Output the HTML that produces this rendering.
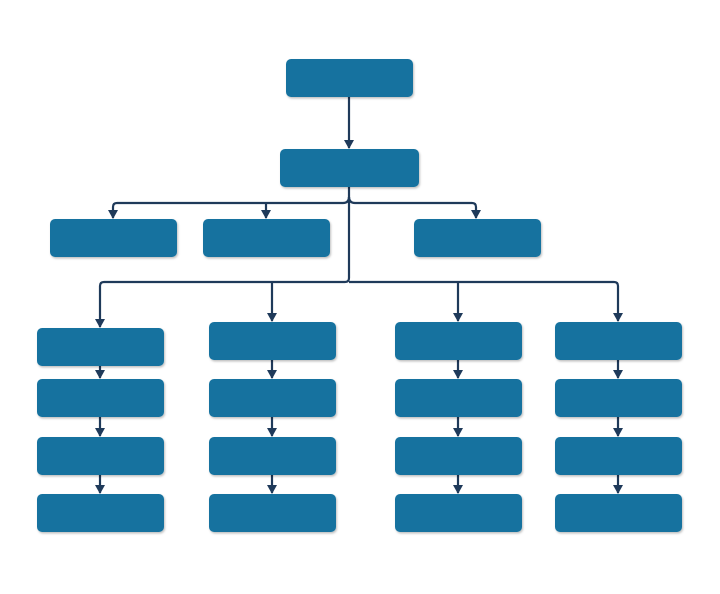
<!DOCTYPE html>
<html><head><meta charset="utf-8"><style>html,body{margin:0;padding:0;background:#fff}svg{display:block}</style></head>
<body>
<svg width="720" height="594" viewBox="0 0 720 594" xmlns="http://www.w3.org/2000/svg">
<defs>
<marker id="a" markerWidth="9" markerHeight="10" refX="8" refY="5" orient="auto" markerUnits="userSpaceOnUse" viewBox="0 0 9 10">
<path d="M0,0 L9,5 L0,10 Z" fill="#1f3a5a"/></marker>
<filter id="s" x="-10%" y="-10%" width="120%" height="140%"><feDropShadow dx="1" dy="1.5" stdDeviation="1" flood-color="#000" flood-opacity="0.25"/></filter>
</defs>
<g fill="none" stroke="#1f3a5a" stroke-width="2.2">
<line x1="349" y1="97" x2="349" y2="148" marker-end="url(#a)"/>
<path d="M349 187 V278 Q349 282 345 282 H104 Q100 282 100 286 V327" marker-end="url(#a)"/>
<path d="M349 282 H614 Q618 282 618 286 V321" marker-end="url(#a)"/>
<path d="M272 282 V321" marker-end="url(#a)"/>
<path d="M458 282 V321" marker-end="url(#a)"/>
<path d="M349 197 Q349 203 343 203 H117 Q113 203 113 207 V218" marker-end="url(#a)"/>
<path d="M266 203 V218" marker-end="url(#a)"/>
<path d="M349 197 Q349 203 355 203 H472 Q476 203 476 207 V218" marker-end="url(#a)"/>
<path d="M100 366 V378" marker-end="url(#a)"/><path d="M100 417 V436" marker-end="url(#a)"/><path d="M100 475 V493" marker-end="url(#a)"/>
<path d="M272 360 V378" marker-end="url(#a)"/><path d="M272 417 V436" marker-end="url(#a)"/><path d="M272 475 V493" marker-end="url(#a)"/>
<path d="M458 360 V378" marker-end="url(#a)"/><path d="M458 417 V436" marker-end="url(#a)"/><path d="M458 475 V493" marker-end="url(#a)"/>
<path d="M618 360 V378" marker-end="url(#a)"/><path d="M618 417 V436" marker-end="url(#a)"/><path d="M618 475 V493" marker-end="url(#a)"/>
</g>
<g fill="#14729f" filter="url(#s)">
<rect x="286" y="59" width="127" height="38" rx="5"/>
<rect x="280" y="149" width="139" height="38" rx="5"/>
<rect x="50" y="219" width="127" height="38" rx="5"/>
<rect x="203" y="219" width="127" height="38" rx="5"/>
<rect x="414" y="219" width="127" height="38" rx="5"/>
<rect x="37" y="328" width="127" height="38" rx="5"/>
<rect x="209" y="322" width="127" height="38" rx="5"/>
<rect x="395" y="322" width="127" height="38" rx="5"/>
<rect x="555" y="322" width="127" height="38" rx="5"/>
<rect x="37" y="379" width="127" height="38" rx="5"/>
<rect x="209" y="379" width="127" height="38" rx="5"/>
<rect x="395" y="379" width="127" height="38" rx="5"/>
<rect x="555" y="379" width="127" height="38" rx="5"/>
<rect x="37" y="437" width="127" height="38" rx="5"/>
<rect x="209" y="437" width="127" height="38" rx="5"/>
<rect x="395" y="437" width="127" height="38" rx="5"/>
<rect x="555" y="437" width="127" height="38" rx="5"/>
<rect x="37" y="494" width="127" height="38" rx="5"/>
<rect x="209" y="494" width="127" height="38" rx="5"/>
<rect x="395" y="494" width="127" height="38" rx="5"/>
<rect x="555" y="494" width="127" height="38" rx="5"/>
</g>
</svg>
</body></html>
